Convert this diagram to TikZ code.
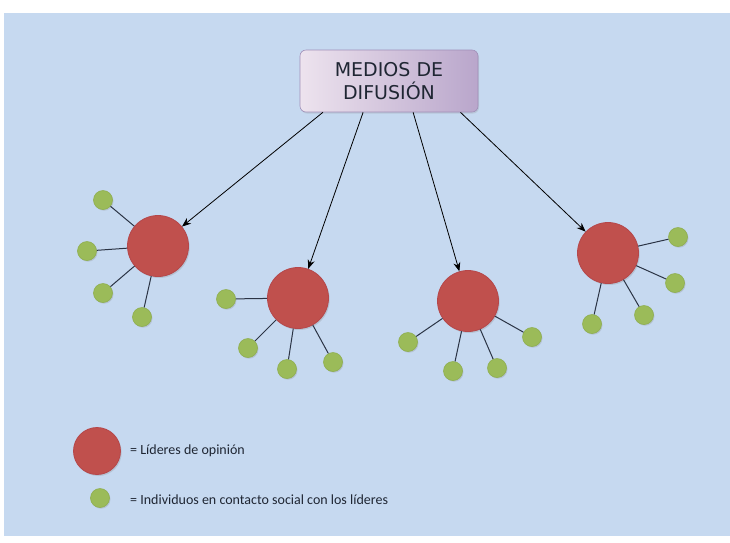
\documentclass[tikz,border=0pt]{standalone}
\usepackage{fontspec}
\setmainfont{Carlito}
\newfontfamily\titlefont{DejaVu Sans}
\usetikzlibrary{arrows.meta,shadows,calc}
\definecolor{bgblue}{HTML}{C6D9F0}
\definecolor{leaderred}{HTML}{C0504D}
\definecolor{leaderedge}{HTML}{B5474A}
\definecolor{folgreen}{HTML}{9BBB59}
\definecolor{folgedge}{HTML}{8EAE4E}
\definecolor{boxleft}{HTML}{EDE3EE}
\definecolor{boxright}{HTML}{B9A6CB}
\definecolor{boxedge}{HTML}{A08FB8}
\definecolor{linkcol}{HTML}{2B3445}
\definecolor{txtcol}{HTML}{1F2633}
\tikzset{
  leader/.style={circle, inner sep=0pt, minimum size=61pt, fill=leaderred, draw=leaderedge, line width=0.8pt,
    drop shadow={shadow xshift=1.2pt, shadow yshift=-1.5pt, opacity=0.25}},
  follower/.style={circle, inner sep=0pt, minimum size=19pt, fill=folgreen, draw=folgedge, line width=0.6pt,
    drop shadow={shadow xshift=1pt, shadow yshift=-1.2pt, opacity=0.25}},
  link/.style={draw=linkcol, line width=1pt},
  arr/.style={draw=black, line width=0.8pt, -{Stealth[length=9pt,width=7pt]}},
  titlebox/.style={rectangle, rounded corners=6pt, minimum width=178pt, minimum height=62pt,
    left color=boxleft, right color=boxright, draw=boxedge, line width=0.6pt,
    align=center, font=\titlefont\fontsize{19}{23}\selectfont, text=txtcol,
    drop shadow={shadow xshift=1pt, shadow yshift=-1.5pt, opacity=0.2}},
  legendtxt/.style={anchor=west, inner sep=0pt, font=\fontsize{14}{16}\selectfont, text=txtcol}
}
\begin{document}
\begin{tikzpicture}[x=1pt,y=-1pt]
\useasboundingbox[fill=white] (0,0) rectangle (730,542);
\fill[bgblue] (4,13) rectangle (730,536);

\node[titlebox] (T) at (389,81) {MEDIOS DE\\DIFUSIÓN};

% leaders
\node[leader] (L1) at (158,246) {};
\node[leader] (L2) at (298,298) {};
\node[leader] (L3) at (468,301) {};
\node[leader] (L4) at (608,253) {};

% followers of L1
\node[follower] (a1) at (103,200) {};
\node[follower] (a2) at (87,251) {};
\node[follower] (a3) at (103,293) {};
\node[follower] (a4) at (142,317) {};
% followers of L2
\node[follower] (b1) at (226,299) {};
\node[follower] (b2) at (248,348) {};
\node[follower] (b3) at (287,369) {};
\node[follower] (b4) at (333,362) {};
% followers of L3
\node[follower] (c1) at (408,342) {};
\node[follower] (c2) at (453,371) {};
\node[follower] (c3) at (497,368) {};
\node[follower] (c4) at (532,337) {};
% followers of L4
\node[follower] (d1) at (678,237) {};
\node[follower] (d2) at (675,283) {};
\node[follower] (d3) at (644,315) {};
\node[follower] (d4) at (592,324) {};

\foreach \f in {a1,a2,a3,a4} \draw[link] (L1) -- (\f);
\foreach \f in {b1,b2,b3,b4} \draw[link] (L2) -- (\f);
\foreach \f in {c1,c2,c3,c4} \draw[link] (L3) -- (\f);
\foreach \f in {d1,d2,d3,d4} \draw[link] (L4) -- (\f);

% arrows
\coordinate (s1) at ($(T.south west)!0.13!(T.south east)$);
\coordinate (s2) at ($(T.south west)!0.355!(T.south east)$);
\coordinate (s3) at ($(T.south west)!0.635!(T.south east)$);
\coordinate (s4) at ($(T.south west)!0.9!(T.south east)$);
\draw[arr] (s1) -- (L1);
\draw[arr] (s2) -- (L2);
\draw[arr] (s3) -- (L3);
\draw[arr] (s4) -- (L4);

% legend
\node[leader, minimum size=47pt] (LL) at (97,451) {};
\node[follower] (LF) at (100,498) {};
\node[legendtxt] (t1) at (130,451) {= Líderes de opinión};
\node[legendtxt] (t2) at (130,500) {= Individuos en contacto social con los líderes};
\end{tikzpicture}
\end{document}
